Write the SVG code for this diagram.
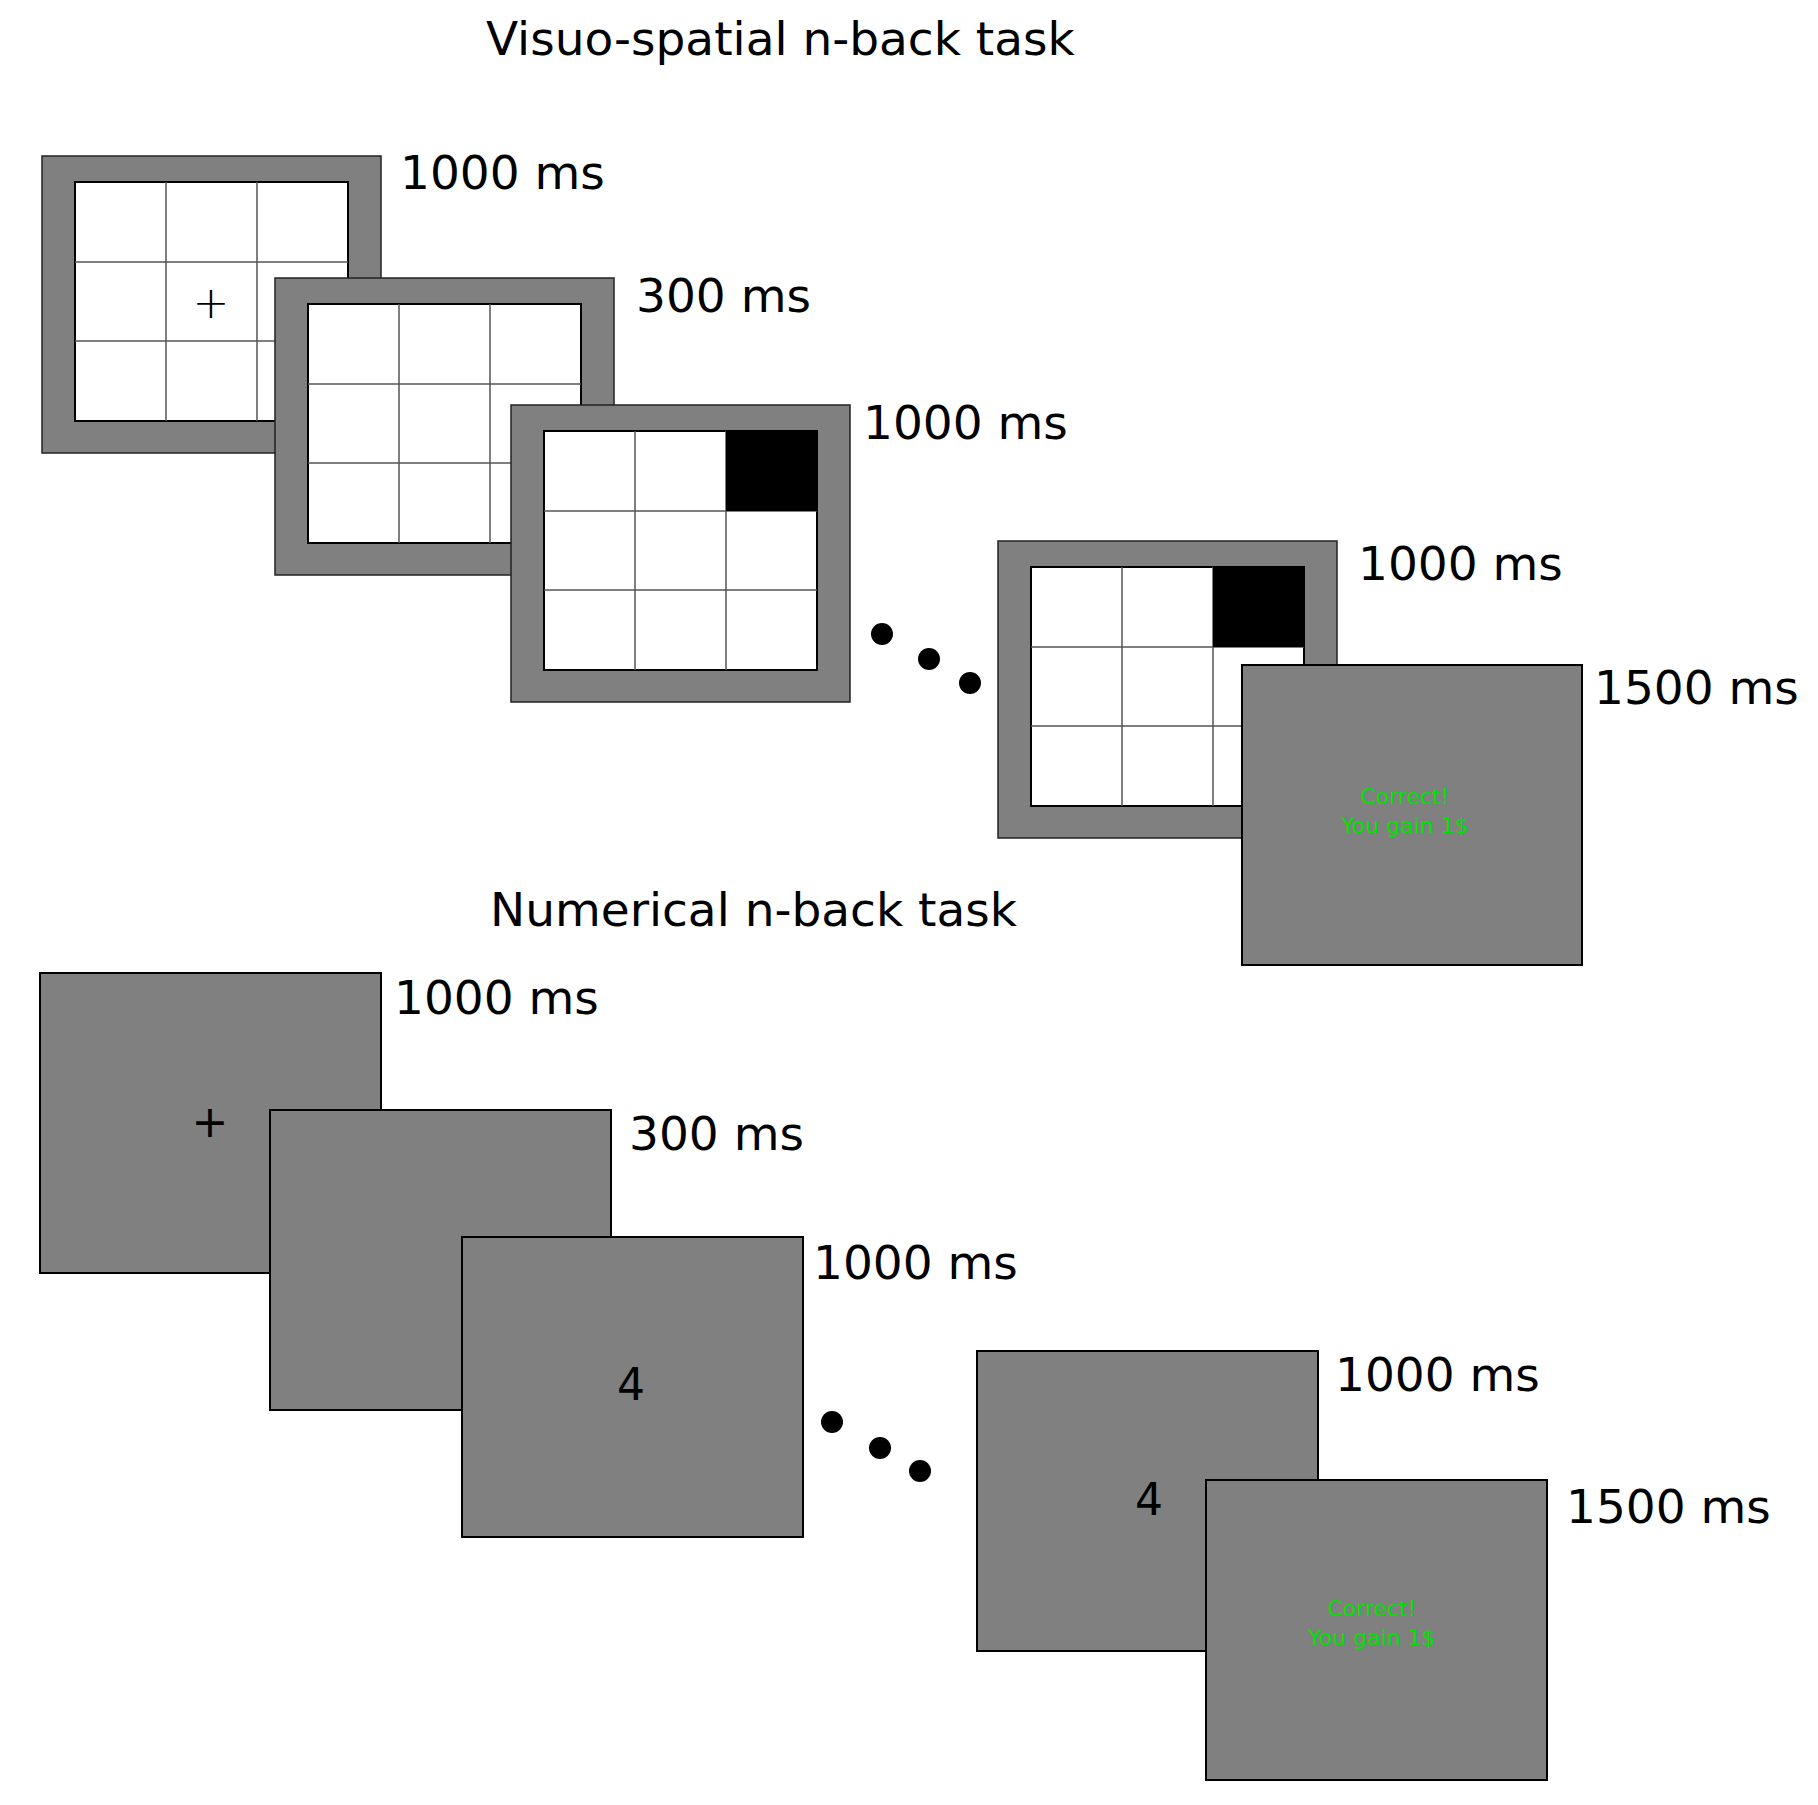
<svg xmlns="http://www.w3.org/2000/svg" width="1818" height="1805" viewBox="0 0 1818 1805">
<defs>
<style>
.fr{fill:#808080;stroke:#222;stroke-width:1.5}
.in{fill:#fff;stroke:#000;stroke-width:2}
.gl{stroke:#555;stroke-width:1.5}
.bx{fill:#808080;stroke:#000;stroke-width:2}
.lb{font-family:"DejaVu Sans",sans-serif;font-size:47px;fill:#000}
.gr{font-family:"DejaVu Sans",sans-serif;font-size:22px;fill:#00e000;text-anchor:middle}
.dig{font-family:"DejaVu Sans",sans-serif;font-size:44px;fill:#000;text-anchor:middle}
</style>
<g id="grid">
<rect class="fr" x="0" y="0" width="339" height="297"/>
<rect class="in" x="33" y="26" width="273" height="239"/>
<line class="gl" x1="124" y1="26" x2="124" y2="265"/>
<line class="gl" x1="215" y1="26" x2="215" y2="265"/>
<line class="gl" x1="33" y1="106" x2="306" y2="106"/>
<line class="gl" x1="33" y1="185" x2="306" y2="185"/>
</g>
</defs>
<rect width="1818" height="1805" fill="#fff"/>
<text class="lb" x="486" y="55">Visuo-spatial n-back task</text>
<g id="v1"><use href="#grid" x="42" y="156"/>
<text x="211" y="318" class="dig" style="font-family:'DejaVu Sans',sans-serif;font-size:44px;font-weight:200">+</text></g>
<g id="v2"><use href="#grid" x="275" y="278"/></g>
<g id="v3"><use href="#grid" x="511" y="405"/><rect x="726" y="431" width="91" height="80" fill="#000"/></g>
<g id="v4"><use href="#grid" x="998" y="541"/><rect x="1213" y="567" width="91" height="80" fill="#000"/></g>
<g id="v5"><rect class="bx" x="1242" y="665" width="340" height="300"/>
<text class="gr" x="1405" y="804">Correct!</text><text class="gr" x="1405" y="833">You gain 1$</text></g>
<g id="vlabels">
<text class="lb" x="400" y="189">1000 ms</text>
<text class="lb" x="636" y="312">300 ms</text>
<text class="lb" x="863" y="439">1000 ms</text>
<text class="lb" x="1358" y="580">1000 ms</text>
<text class="lb" x="1594" y="704">1500 ms</text>
</g>
<g id="vdots"><circle cx="882" cy="634" r="11"/><circle cx="929" cy="659" r="11"/><circle cx="970" cy="683" r="11"/></g>

<text class="lb" x="490" y="926">Numerical n-back task</text>
<g id="n1"><rect class="bx" x="40" y="973" width="341" height="300"/><text class="dig" x="210" y="1137">+</text></g>
<g id="n2"><rect class="bx" x="270" y="1110" width="341" height="300"/></g>
<g id="n3"><rect class="bx" x="462" y="1237" width="341" height="300"/><text class="dig" x="631" y="1400">4</text></g>
<g id="n4"><rect class="bx" x="977" y="1351" width="341" height="300"/><text class="dig" x="1149" y="1515">4</text></g>
<g id="n5"><rect class="bx" x="1206" y="1480" width="341" height="300"/>
<text class="gr" x="1372" y="1616">Correct!</text><text class="gr" x="1372" y="1645">You gain 1$</text></g>
<g id="nlabels">
<text class="lb" x="394" y="1014">1000 ms</text>
<text class="lb" x="629" y="1150">300 ms</text>
<text class="lb" x="813" y="1279">1000 ms</text>
<text class="lb" x="1335" y="1391">1000 ms</text>
<text class="lb" x="1566" y="1523">1500 ms</text>
</g>
<g id="ndots"><circle cx="832" cy="1422" r="11"/><circle cx="880" cy="1448" r="11"/><circle cx="920" cy="1471" r="11"/></g>
</svg>
